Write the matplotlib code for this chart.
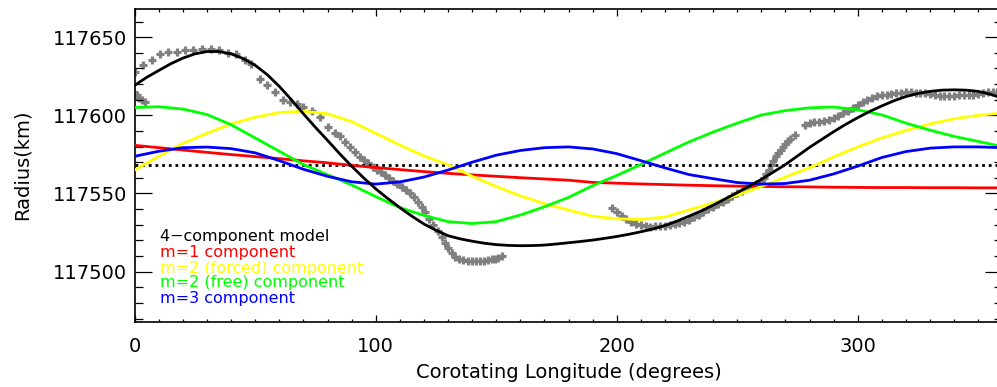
import matplotlib
matplotlib.use('Agg')
import matplotlib.pyplot as plt
import numpy as np
from matplotlib.ticker import MultipleLocator

# component curves, sampled every 10 degrees of corotating longitude
lon = np.arange(0, 361, 10)
# the summed model bends more, so it is read every 5 degrees
lon_model = np.arange(0, 361, 5)

model = [117619.2, 117624.3, 117628.7, 117633.0, 117636.6, 117639.3, 117640.8,
         117640.8, 117639.3, 117636.3, 117632.0, 117626.0, 117618.5, 117610.0,
         117601.0, 117592.3, 117584.0, 117575.5, 117567.5, 117560.0, 117553.0,
         117546.8, 117541.0, 117535.5, 117530.5, 117526.5, 117523.0, 117521.0,
         117519.5, 117518.2, 117517.3, 117516.8, 117516.6, 117516.7, 117517.0,
         117517.7, 117518.5, 117519.3, 117520.2, 117521.3, 117522.5, 117523.9,
         117525.5, 117527.3, 117529.5, 117532.3, 117535.5, 117538.8, 117542.5,
         117546.5, 117550.5, 117554.7, 117559.0, 117563.7, 117568.5, 117574.0,
         117579.5, 117584.5, 117589.5, 117594.2, 117598.5, 117602.5, 117606.0,
         117609.3, 117612.0, 117614.0, 117615.3, 117616.1, 117616.3, 117616.1,
         117615.3, 117613.5, 117611.0]

m1 = [117580.8, 117579.3, 117577.8, 117576.3, 117574.9, 117573.6, 117572.3,
      117570.9, 117569.6, 117568.0, 117566.6, 117565.3, 117564.0, 117562.9,
      117561.9, 117561.0, 117560.1, 117559.3, 117558.5, 117557.1, 117556.6,
      117556.1, 117555.7, 117555.3, 117555.0, 117554.7, 117554.5, 117554.3,
      117554.2, 117554.0, 117553.9, 117553.8, 117553.8, 117553.7, 117553.7,
      117553.6, 117553.6]

m2_forced = [117565.0, 117573.8, 117582.0, 117588.5, 117594.5, 117598.8, 117601.8,
             117602.6, 117601.0, 117596.0, 117588.5, 117581.0, 117574.0, 117568.5,
             117561.0, 117554.5, 117548.5, 117543.5, 117539.5, 117535.5, 117533.8,
             117533.4, 117535.0, 117539.5, 117544.0, 117549.0, 117554.5, 117560.5,
             117566.5, 117573.4, 117579.8, 117585.5, 117590.3, 117594.5, 117597.8,
             117600.0, 117601.5]

m2_free = [117605.0, 117605.5, 117604.0, 117600.5, 117594.0, 117585.5, 117577.0,
           117568.5, 117562.0, 117555.5, 117548.0, 117541.0, 117536.0, 117532.0,
           117530.8, 117532.0, 117536.2, 117541.5, 117547.5, 117555.0, 117561.5,
           117568.5, 117575.8, 117583.0, 117589.3, 117595.0, 117600.2, 117603.0,
           117604.8, 117605.3, 117603.5, 117600.3, 117595.0, 117590.5, 117586.5,
           117583.3, 117580.0]

m3 = [117573.8, 117577.0, 117579.3, 117579.7, 117578.7, 117576.0, 117571.0,
      117565.5, 117561.0, 117557.5, 117556.0, 117557.4, 117560.5, 117565.0,
      117570.0, 117574.5, 117577.5, 117579.3, 117579.8, 117578.5, 117575.5,
      117571.0, 117566.4, 117562.1, 117559.5, 117557.0, 117556.0, 117556.4,
      117558.5, 117562.5, 117567.5, 117573.0, 117576.8, 117579.0, 117579.8,
      117579.8, 117579.3]

mean_radius = 117568.3

# observed radii (gray crosses)
obs_lon = [-0.8, -0.3, 0.8, 1.9, 3.0, 4.1,
           0.0, 3.6, 7.0, 10.5, 13.9, 17.4, 20.9, 24.3, 27.8, 31.5, 35.1, 38.6,
           42.0, 45.8, 48.1, 52.0, 54.8, 58.2, 61.7, 64.4, 67.2, 70.0, 73.4, 76.9,
           80.3, 83.0, 85.2, 87.3, 89.3, 91.4, 93.5, 95.3, 97.0, 98.7, 100.4,
           102.2, 103.9, 105.6, 107.3, 109.0, 110.8, 112.5, 114.2, 116.0, 117.7,
           119.1, 120.5, 122.2, 123.9, 125.7, 127.4, 128.8, 130.1, 131.5, 132.9,
           134.6, 136.4, 138.1, 139.8, 141.5, 143.3, 145.0, 146.7, 148.1, 149.5,
           150.9, 152.3,
           198, 200, 202, 204, 206, 208, 210, 212, 214, 216, 218, 220, 222, 224,
           226, 228, 230, 232, 234, 236, 238, 240, 242, 244, 246, 248, 250, 252,
           254, 256, 258, 260, 261, 262, 263, 264, 265, 266, 267, 268, 269, 270,
           271, 272, 274, 278, 280, 282, 284, 286, 288, 290, 292, 294, 296,
           298, 300, 302, 304, 306, 308, 310, 312, 314, 316, 318, 320, 322, 324,
           326, 328, 330, 332, 334, 336, 338, 340, 342, 344, 346, 348, 350, 352,
           354, 356, 358]
obs_rad = [117615.0, 117614.3, 117612.8, 117611.3, 117610.0, 117608.8,
           117627.7, 117632.4, 117635.1, 117639.4, 117640.5, 117640.5, 117641.5,
           117642.0, 117642.1, 117642.1, 117641.5, 117639.8, 117639.0, 117635.1,
           117632.6, 117623.1, 117619.2, 117614.9, 117609.6, 117608.5, 117607.5,
           117605.3, 117602.5, 117599.0, 117592.5, 117589.0, 117586.6, 117583.0,
           117579.8, 117576.5, 117573.4, 117571.2, 117569.2, 117567.2, 117565.3,
           117563.5, 117561.7, 117559.9, 117558.1, 117556.2, 117554.3, 117552.2,
           117550.0, 117547.5, 117544.7, 117541.5, 117538.3, 117534.0, 117529.8,
           117526.0, 117522.4, 117518.5, 117514.9, 117512.0, 117509.6, 117508.2,
           117507.5, 117507.0, 117506.8, 117506.8, 117506.8, 117507.1, 117507.5,
           117507.8, 117508.1, 117509.0, 117510.0,
           117540.5, 117538.0, 117535.5, 117533.5, 117531.8, 117530.5, 117529.6,
           117529.0, 117528.7, 117528.9, 117529.2, 117529.5, 117529.8, 117530.3,
           117530.9, 117531.8, 117533.2, 117534.7, 117536.3, 117538.0, 117539.8,
           117541.5, 117543.0, 117544.8, 117546.6, 117548.3, 117550.0, 117551.7,
           117553.3, 117554.8, 117556.3, 117558.0, 117560.0, 117562.5, 117565.0,
           117568.0, 117571.0, 117574.0, 117576.0, 117578.0, 117580.0, 117581.5,
           117583.3, 117585.0, 117587.3, 117593.5, 117595.0, 117595.5, 117596.0,
           117596.5, 117597.2, 117598.3, 117599.8, 117601.3, 117603.0, 117605.0,
           117606.8, 117608.5, 117609.8, 117611.3, 117612.3, 117612.8, 117613.2,
           117613.7, 117614.3, 117614.5, 117614.7, 117614.7, 117614.5, 117614.3,
           117614.0, 117613.5, 117613.0, 117612.6, 117612.3, 117612.3, 117612.5,
           117612.8, 117613.0, 117613.2, 117613.3, 117613.5, 117614.2, 117614.7,
           117614.9, 117615.0]

legend_labels = ['4\u2212component model', 'm=1 component',
                 'm=2 (forced) component', 'm=2 (free) component',
                 'm=3 component']
legend_colors = ['black', '#ff0000', '#ffff00', '#00ff00', '#0000ff']

W, H = 997, 387
fig = plt.figure(figsize=(W / 100, H / 100), dpi=100)
ax = fig.add_axes([134.7 / W, (H - 321.7) / H, 867.6 / W, 312.7 / H])

ax.plot(obs_lon, obs_rad, linestyle='none', marker='+', ms=5.5, mew=2.3,
        color='#808080', zorder=1)
ax.axhline(mean_radius, color='black', lw=2.0, linestyle=(0, (1, 1.4)),
           dash_capstyle='butt', zorder=2)
ax.plot(lon, m1, color='#ff0000', lw=2.0, zorder=3)
ax.plot(lon, m2_forced, color='#ffff00', lw=2.0, zorder=3)
ax.plot(lon, m2_free, color='#00ff00', lw=2.0, zorder=3)
ax.plot(lon, m3, color='#0000ff', lw=2.0, zorder=3)
ax.plot(lon_model, model, color='black', lw=2.0, zorder=4)

ax.set_xlim(0, 360)
ax.set_ylim(117468, 117668)
ax.xaxis.set_major_locator(MultipleLocator(100))
ax.xaxis.set_minor_locator(MultipleLocator(10))
ax.yaxis.set_major_locator(MultipleLocator(50))
ax.yaxis.set_minor_locator(MultipleLocator(10))
ax.ticklabel_format(axis='y', useOffset=False, style='plain')

ax.tick_params(axis='x', which='major', direction='in', length=5, width=0.9,
               top=True, labelsize=14, pad=11)
ax.tick_params(axis='x', which='minor', direction='in', length=2.5, width=0.9,
               top=True)
ax.tick_params(axis='y', which='major', direction='in', length=12, width=0.9,
               right=True, labelsize=14, pad=5.5)
ax.tick_params(axis='y', which='minor', direction='in', length=6, width=0.9,
               right=True)
for s in ax.spines.values():
    s.set_linewidth(1.2)

fig.text(568.5 / W, 1 - 373 / H, 'Corotating Longitude (degrees)',
         ha='center', va='center', fontsize=14)
fig.text(22 / W, 1 - 165 / H, 'Radius(km)', rotation=90,
         ha='center', va='center', fontsize=14)

legend_y = [236, 252, 268, 283, 299]
for lab, col, yy in zip(legend_labels, legend_colors, legend_y):
    fig.text(159.5 / W, 1 - yy / H, lab, color=col, fontsize=11.5,
             ha='left', va='center')

fig.savefig('out.png', dpi=100)
